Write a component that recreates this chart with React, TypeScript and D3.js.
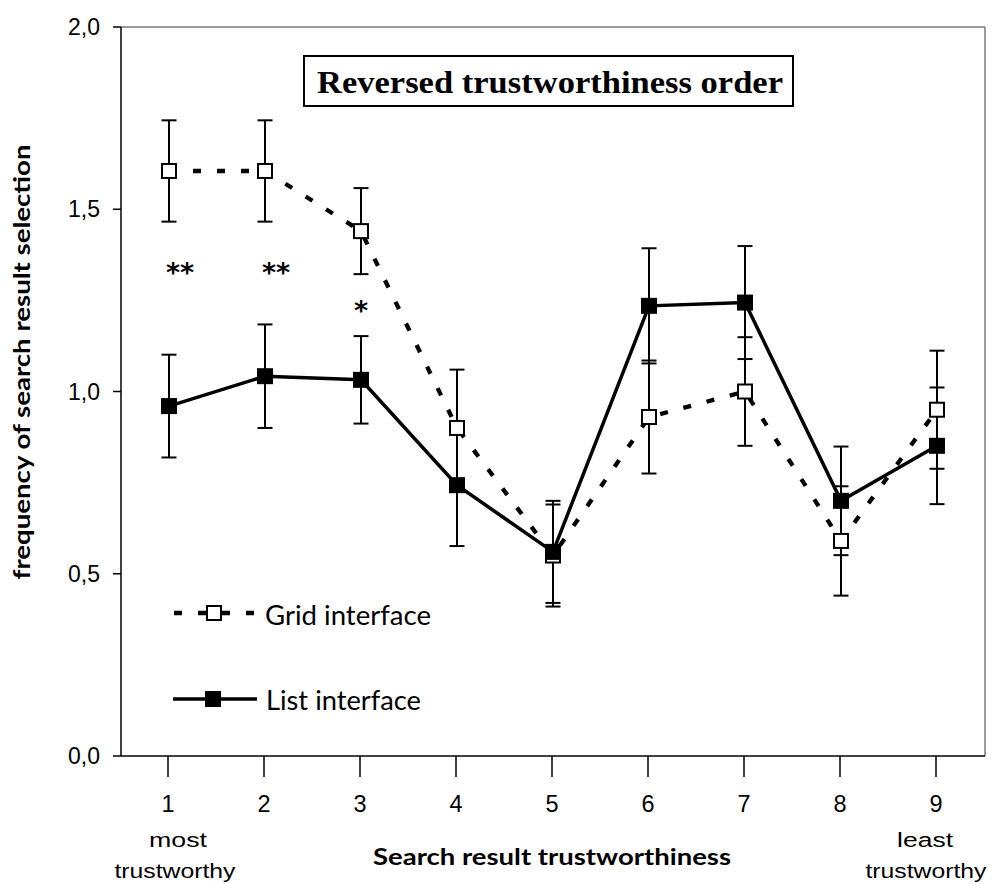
import React from "react";
import * as d3 from "d3";

const categories = ["1", "2", "3", "4", "5", "6", "7", "8", "9"];
const gridMeans = [1.605, 1.605, 1.44, 0.9, 0.55, 0.93, 1.0, 0.59, 0.95];
const gridErrors = [0.139, 0.139, 0.118, 0.16, 0.14, 0.155, 0.149, 0.15, 0.162];
const listMeans = [0.96, 1.042, 1.032, 0.743, 0.56, 1.235, 1.244, 0.7, 0.851];
const listErrors = [0.141, 0.142, 0.12, 0.167, 0.14, 0.158, 0.155, 0.149, 0.16];
const yTicks = [0, 0.5, 1.0, 1.5, 2.0];
const significance = [
  { cat: "1", label: "**", value: 1.34 },
  { cat: "2", label: "**", value: 1.34 },
  { cat: "3", label: "*", value: 1.235 },
];
const seriesNames = ["Grid interface", "List interface"];
const chartTitle = "Reversed trustworthiness order";
const xTitle = "Search result trustworthiness";
const yTitle = "frequency of search result selection";

const W = 992;
const H = 884;
const left = 121;
const right = 985;
const top = 27;
const bottom = 756;

const locale = d3.formatLocale({ decimal: ",", thousands: ".", grouping: [3], currency: ["", ""] });
const fmt = locale.format(".1f");

export default function App() {
  const x = d3.scaleBand<string>().domain(categories).range([left, right]).padding(0);
  const y = d3.scaleLinear().domain([0, 2]).range([bottom, top]);
  const cx = (c: string) => (x(c) as number) + x.bandwidth() / 2;

  const line = d3
    .line<number>()
    .x((_, i) => cx(categories[i]))
    .y((d) => y(d));

  const errBars = (means: number[], errs: number[], key: string) =>
    means.map((m, i) => {
      const xc = cx(categories[i]);
      const y1 = y(m + errs[i]);
      const y2 = y(m - errs[i]);
      return (
        <g key={key + i} stroke="#000" strokeWidth={2}>
          <line x1={xc} x2={xc} y1={y1} y2={y2} />
          <line x1={xc - 7.5} x2={xc + 7.5} y1={y1} y2={y1} />
          <line x1={xc - 7.5} x2={xc + 7.5} y1={y2} y2={y2} />
        </g>
      );
    });

  const calibri = "Lato, 'Open Sans', sans-serif";
  const arial = "'Liberation Sans', Arial, sans-serif";

  return (
    <svg width={W} height={H} style={{ position: "absolute", left: 0, top: 0, background: "#fff" }}>
      <rect x={0} y={0} width={W} height={H} fill="#fff" />
      {/* frame */}
      <line x1={left} x2={right} y1={top} y2={top} stroke="#7a7a7a" strokeWidth={1.5} />
      <line x1={right} x2={right} y1={top} y2={bottom} stroke="#7a7a7a" strokeWidth={1.5} />
      {/* y axis */}
      <line x1={left} x2={left} y1={top} y2={bottom} stroke="#000" strokeWidth={1.5} />
      {yTicks.map((t) => (
        <g key={"yt" + t}>
          <line x1={left - 8} x2={left} y1={y(t)} y2={y(t)} stroke="#000" strokeWidth={1.5} />
          <text x={100} y={y(t) + 8} textAnchor="end" fontFamily={arial} fontSize={23} fill="#000">
            {fmt(t)}
          </text>
        </g>
      ))}
      {/* x axis */}
      <line x1={left} x2={right} y1={bottom} y2={bottom} stroke="#000" strokeWidth={1.5} />
      {categories.map((c) => (
        <g key={"xt" + c}>
          <line x1={cx(c) - 1} x2={cx(c) - 1} y1={bottom} y2={bottom + 21} stroke="#000" strokeWidth={1.5} />
          <text x={cx(c) - 1} y={812} textAnchor="middle" fontFamily={arial} fontSize={23.5} fill="#000">
            {c}
          </text>
        </g>
      ))}
      <text x={178} y={847} textAnchor="middle" fontFamily={arial} fontSize={20} textLength={58} lengthAdjust="spacingAndGlyphs">most</text>
      <text x={175} y={878} textAnchor="middle" fontFamily={arial} fontSize={20} textLength={121} lengthAdjust="spacingAndGlyphs">trustworthy</text>
      <text x={925} y={847} textAnchor="middle" fontFamily={arial} fontSize={20} textLength={56} lengthAdjust="spacingAndGlyphs">least</text>
      <text x={926} y={878} textAnchor="middle" fontFamily={arial} fontSize={20} textLength={121} lengthAdjust="spacingAndGlyphs">trustworthy</text>
      <text x={552} y={865} textAnchor="middle" fontFamily={calibri} fontWeight="bold" fontSize={22} textLength={358} lengthAdjust="spacingAndGlyphs">
        {xTitle}
      </text>
      <text
        transform="translate(30,362) rotate(-90)"
        textAnchor="middle"
        fontFamily={calibri}
        fontWeight="bold"
        fontSize={22}
        textLength={435}
        lengthAdjust="spacingAndGlyphs"
      >
        {yTitle}
      </text>

      {/* title box */}
      <rect x={304} y={56} width={489} height={50} fill="#fff" stroke="#000" strokeWidth={2} />
      <text x={550} y={93} textAnchor="middle" fontFamily="'Liberation Serif', 'Times New Roman', serif" fontWeight="bold" fontSize={31} textLength={466} lengthAdjust="spacingAndGlyphs">
        {chartTitle}
      </text>

      {/* lines */}
      <path d={line(gridMeans) || ""} fill="none" stroke="#000" strokeWidth={4.3} strokeDasharray="8,16" />
      <path d={line(listMeans) || ""} fill="none" stroke="#000" strokeWidth={3.5} />

      {/* error bars */}
      {errBars(gridMeans, gridErrors, "ge")}
      {errBars(listMeans, listErrors, "le")}

      {/* markers */}
      {gridMeans.map((m, i) => (
        <rect key={"gm" + i} x={cx(categories[i]) - 7} y={y(m) - 7} width={14} height={14} fill="#fff" stroke="#000" strokeWidth={2} />
      ))}
      {listMeans.map((m, i) => (
        <rect key={"lm" + i} x={cx(categories[i]) - 8} y={y(m) - 8} width={16} height={16} fill="#000" />
      ))}

      {/* significance */}
      {significance.map((s) => (
        <text
          key={"sig" + s.cat}
          x={s.label.length === 2 ? cx(s.cat) - 3 : cx(s.cat)}
          y={y(s.value) + 14}
          textAnchor={s.label.length === 2 ? "start" : "middle"}
          fontFamily="'DejaVu Sans', sans-serif"
          fontWeight="bold"
          fontSize={27}
        >
          {s.label}
        </text>
      ))}

      {/* legend */}
      <line x1={174} x2={256} y1={613} y2={613} stroke="#000" strokeWidth={4.3} strokeDasharray="8,16" />
      <rect x={207} y={606} width={14} height={14} fill="#fff" stroke="#000" strokeWidth={2} />
      <text x={265} y={625} fontFamily={calibri} fontSize={26} textLength={166} lengthAdjust="spacingAndGlyphs">
        {seriesNames[0]}
      </text>
      <line x1={173} x2={257} y1={699} y2={699} stroke="#000" strokeWidth={3.5} />
      <rect x={205} y={691} width={16} height={16} fill="#000" />
      <text x={266} y={710} fontFamily={calibri} fontSize={26} textLength={155} lengthAdjust="spacingAndGlyphs">
        {seriesNames[1]}
      </text>
    </svg>
  );
}
